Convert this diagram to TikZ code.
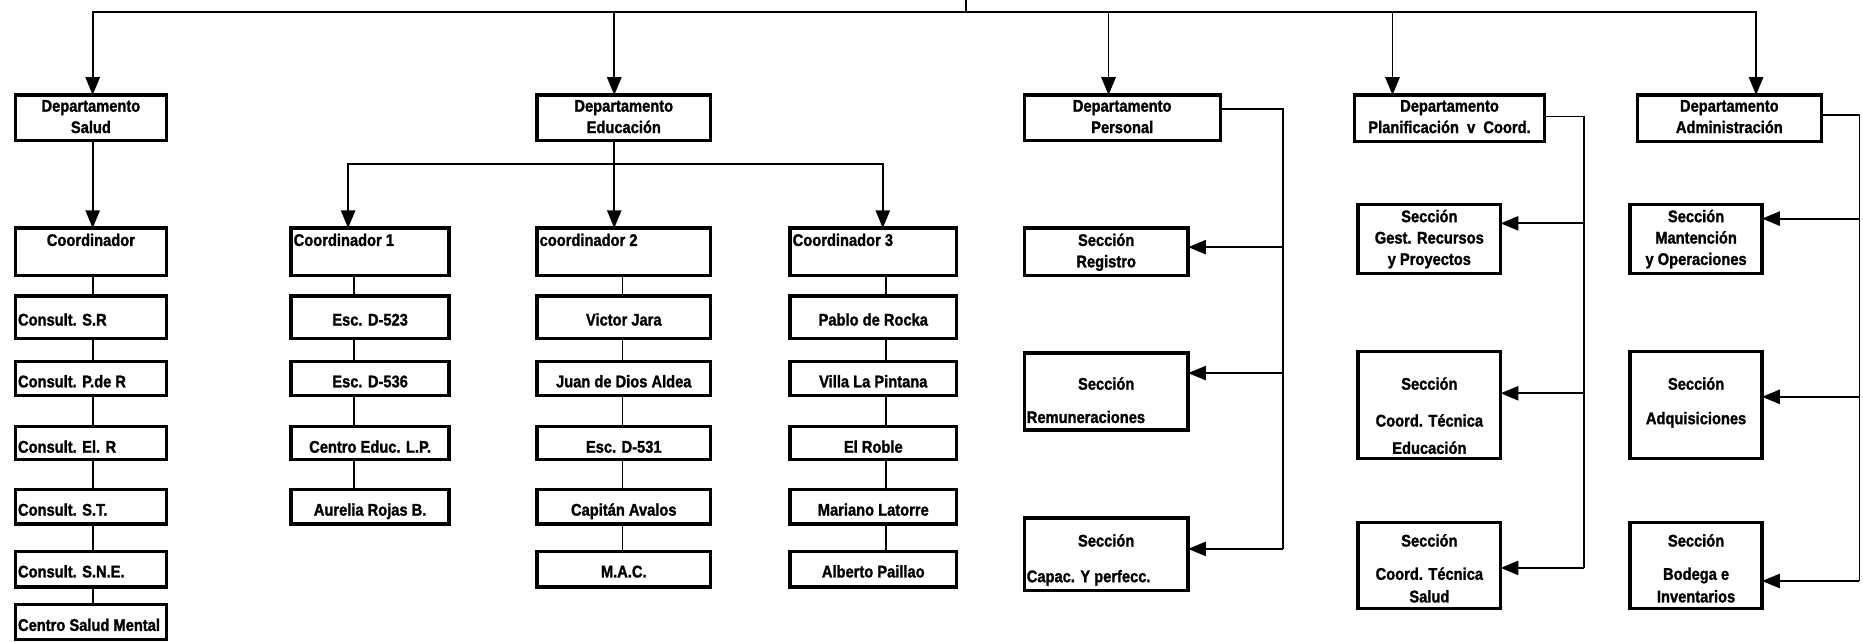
\documentclass[tikz,border=0pt]{standalone}
\usepackage{fontspec}
\setmainfont{Liberation Sans}[FakeStretch=0.87,BoldFeatures={FakeBold=1.4}]
\usetikzlibrary{arrows.meta}
\begin{document}
\begin{tikzpicture}[x=1pt,y=-1pt,
  ubox/.style={draw, line width=2.8pt, inner sep=0pt, outer sep=0pt},
  wire/.style={line width=1.5pt},
  arr/.style={wire, -{Triangle[length=15pt,width=12pt]}},
  lbl/.style={font=\fontsize{14.2}{16}\selectfont\bfseries, inner sep=0pt, anchor=base},
]
\useasboundingbox (0,0) rectangle (1568,540);

% box: name, x1, y1, x2, y2
\newcommand\ubx[5]{\node[ubox, minimum width={(#4-#2)*1pt}, minimum height={(#5-#3)*1pt}] (#1) at ({(#2+#4)/2},{(#3+#5)/2}) {};}
% centred text line: node, baseline offset from top, text
\newcommand\ctx[3]{\node[lbl] at ([yshift=-#2pt]#1.north) {#3};}
% left aligned text line
\newcommand\ltx[3]{\node[lbl, anchor=base west] at ([xshift=2pt,yshift=-#2pt]#1.north west) {#3};}

% ---------- departments ----------
\ubx{dSal}{13}{80}{140}{118}
\ubx{dEdu}{452}{80}{598}{118}
\ubx{dPer}{862}{80}{1027}{118}
\ubx{dPla}{1140}{80}{1300}{119}
\ubx{dAdm}{1378}{80}{1533}{119}
\ctx{dSal}{14}{Departamento}\ctx{dSal}{32}{Salud}
\ctx{dEdu}{14}{Departamento}\ctx{dEdu}{32}{Educación}
\ctx{dPer}{14}{Departamento}\ctx{dPer}{32}{Personal}
\ctx{dPla}{14}{Departamento}\ctx{dPla}{32}{Planificación\ \ v\ \ Coord.}
\ctx{dAdm}{14}{Departamento}\ctx{dAdm}{32}{Administración}

% ---------- top bus ----------
\coordinate (root) at (813,0);
\coordinate (bus) at (813,10);
\draw[wire] (root) -- (bus);
\draw[arr] (bus) -| ([xshift=1.5pt]dSal.north);
\draw[arr] (bus) -| ([xshift=-8pt]dEdu.north);
\draw[arr] (bus) -| ([xshift=-11.5pt]dPer.north);
\draw[arr] (bus) -| ([xshift=-48pt]dPla.north);
\draw[arr] (bus) -| ([xshift=22.5pt]dAdm.north);

% ---------- Salud ----------
\ubx{cSal}{13}{192}{140}{232}
\ubx{sa1}{13}{249}{140}{285}
\ubx{sa2}{13}{304}{140}{333}
\ubx{sa3}{13}{359}{140}{387}
\ubx{sa4}{13}{412}{140}{441}
\ubx{sa5}{13}{464}{140}{494}
\ubx{sa6}{13}{509}{140}{538}
\ctx{cSal}{15}{Coordinador}
\ltx{sa1}{25}{Consult. S.R}
\ltx{sa2}{22}{Consult. P.de R}
\ltx{sa3}{22}{Consult. El. R}
\ltx{sa4}{22}{Consult. S.T.}
\ltx{sa5}{22}{Consult. S.N.E.}
\ltx{sa6}{22}{Centro Salud Mental}
\draw[arr] ([xshift=1.5pt]dSal.south) -- ([xshift=1.5pt]cSal.north);
\draw[wire] ([xshift=1.5pt]cSal.south) -- ([xshift=1.5pt]sa1.north);
\draw[wire] ([xshift=1.5pt]sa1.south) -- ([xshift=1.5pt]sa2.north);
\draw[wire] ([xshift=1.5pt]sa2.south) -- ([xshift=1.5pt]sa3.north);
\draw[wire] ([xshift=1.5pt]sa3.south) -- ([xshift=1.5pt]sa4.north);
\draw[wire] ([xshift=1.5pt]sa4.south) -- ([xshift=1.5pt]sa5.north);
\draw[wire] ([xshift=1.5pt]sa5.south) -- ([xshift=1.5pt]sa6.north);

% ---------- Educacion ----------
\coordinate (eb) at (517,138);
\draw[wire] ([xshift=-8pt]dEdu.south) -- (eb);
% coordinator 1
\ubx{c1}{245}{192}{378}{232}
\ubx{e11}{245}{249}{378}{285}
\ubx{e12}{245}{304}{378}{333}
\ubx{e13}{245}{359}{378}{387}
\ubx{e14}{245}{412}{378}{441}
\ltx{c1}{15}{Coordinador 1}
\ctx{e11}{25}{Esc. D-523}
\ctx{e12}{22}{Esc. D-536}
\ctx{e13}{22}{Centro Educ. L.P.}
\ctx{e14}{22}{Aurelia Rojas B.}
% coordinator 2
\ubx{c2}{452}{192}{598}{232}
\ubx{e21}{452}{249}{598}{285}
\ubx{e22}{452}{304}{598}{333}
\ubx{e23}{452}{359}{598}{387}
\ubx{e24}{452}{412}{598}{441}
\ubx{e25}{452}{464}{598}{494}
\ltx{c2}{15}{coordinador 2}
\ctx{e21}{25}{Victor Jara}
\ctx{e22}{22}{Juan de Dios Aldea}
\ctx{e23}{22}{Esc. D-531}
\ctx{e24}{22}{Capitán Avalos}
\ctx{e25}{22}{M.A.C.}
% coordinator 3
\ubx{c3}{665}{192}{805}{232}
\ubx{e31}{665}{249}{805}{285}
\ubx{e32}{665}{304}{805}{333}
\ubx{e33}{665}{359}{805}{387}
\ubx{e34}{665}{412}{805}{441}
\ubx{e35}{665}{464}{805}{494}
\ltx{c3}{15}{Coordinador 3}
\ctx{e31}{25}{Pablo de Rocka}
\ctx{e32}{22}{Villa La Pintana}
\ctx{e33}{22}{El Roble}
\ctx{e34}{22}{Mariano Latorre}
\ctx{e35}{22}{Alberto Paillao}

\draw[arr] (eb) -| ([xshift=-18.5pt]c1.north);
\draw[arr] (eb) -- ([xshift=-8pt]c2.north);
\draw[arr] (eb) -| ([xshift=8pt]c3.north);

\draw[wire] ([xshift=-13.5pt]c1.south) -- ([xshift=-13.5pt]e11.north);
\draw[wire] ([xshift=-13.5pt]e11.south) -- ([xshift=-13.5pt]e12.north);
\draw[wire] ([xshift=-13.5pt]e12.south) -- ([xshift=-13.5pt]e13.north);
\draw[wire] ([xshift=-13.5pt]e13.south) -- ([xshift=-13.5pt]e14.north);

\draw[wire] ([xshift=-1pt]c2.south) -- ([xshift=-1pt]e21.north);
\draw[wire] ([xshift=-1pt]e21.south) -- ([xshift=-1pt]e22.north);
\draw[wire] ([xshift=-1pt]e22.south) -- ([xshift=-1pt]e23.north);
\draw[wire] ([xshift=-1pt]e23.south) -- ([xshift=-1pt]e24.north);
\draw[wire] ([xshift=-1pt]e24.south) -- ([xshift=-1pt]e25.north);

\draw[wire] ([xshift=11pt]c3.south) -- ([xshift=11pt]e31.north);
\draw[wire] ([xshift=11pt]e31.south) -- ([xshift=11pt]e32.north);
\draw[wire] ([xshift=11pt]e32.south) -- ([xshift=11pt]e33.north);
\draw[wire] ([xshift=11pt]e33.south) -- ([xshift=11pt]e34.north);
\draw[wire] ([xshift=11pt]e34.south) -- ([xshift=11pt]e35.north);

% ---------- Personal ----------
\ubx{pReg}{862}{192}{1000}{232}
\ubx{pRem}{862}{297}{1000}{362}
\ubx{pCap}{862}{436}{1000}{497}
\ctx{pReg}{15}{Sección}\ctx{pReg}{33}{Registro}
\ctx{pRem}{31}{Sección}\ltx{pRem}{59}{Remuneraciones}
\ctx{pCap}{24}{Sección}\ltx{pCap}{54}{Capac. Y perfecc.}
\coordinate (pTop) at (1080,92);
\coordinate (pA) at (1080,208);
\coordinate (pB) at (1080,314);
\coordinate (pC) at (1080,462);
\draw[wire] (dPer.east |- pTop) -- (pTop) -- (pC);
\draw[arr] (pA) -- (pReg.east |- pA);
\draw[arr] (pB) -- (pRem.east |- pB);
\draw[arr] (pC) -- (pCap.east |- pC);

% ---------- Planificacion ----------
\ubx{lGR}{1143}{172}{1263}{230}
\ubx{lCE}{1143}{296}{1263}{386}
\ubx{lCS}{1143}{440}{1263}{512}
\ctx{lGR}{15}{Sección}\ctx{lGR}{33}{Gest. Recursos}\ctx{lGR}{51}{y Proyectos}
\ctx{lCE}{32}{Sección}\ctx{lCE}{63}{Coord. Técnica}\ctx{lCE}{86}{Educación}
\ctx{lCS}{20}{Sección}\ctx{lCS}{48}{Coord. Técnica}\ctx{lCS}{67}{Salud}
\coordinate (lTop) at (1333,98);
\coordinate (lA) at (1333,188);
\coordinate (lB) at (1333,331);
\coordinate (lC) at (1333,478);
\draw[wire] (dPla.east |- lTop) -- (lTop) -- (lC);
\draw[arr] (lA) -- (lGR.east |- lA);
\draw[arr] (lB) -- (lCE.east |- lB);
\draw[arr] (lC) -- (lCS.east |- lC);

% ---------- Administracion ----------
\ubx{aMO}{1372}{172}{1483}{230}
\ubx{aAQ}{1372}{296}{1483}{386}
\ubx{aBI}{1372}{440}{1483}{512}
\ctx{aMO}{15}{Sección}\ctx{aMO}{33}{Mantención}\ctx{aMO}{51}{y Operaciones}
\ctx{aAQ}{32}{Sección}\ctx{aAQ}{61}{Adquisiciones}
\ctx{aBI}{20}{Sección}\ctx{aBI}{48}{Bodega e}\ctx{aBI}{67}{Inventarios}
\coordinate (aTop) at (1565,97);
\coordinate (aA) at (1565,184);
\coordinate (aB) at (1565,334);
\coordinate (aC) at (1565,489);
\draw[wire] (dAdm.east |- aTop) -- (aTop) -- (aC);
\draw[arr] (aA) -- (aMO.east |- aA);
\draw[arr] (aB) -- (aAQ.east |- aB);
\draw[arr] (aC) -- (aBI.east |- aC);
\end{tikzpicture}
\end{document}
